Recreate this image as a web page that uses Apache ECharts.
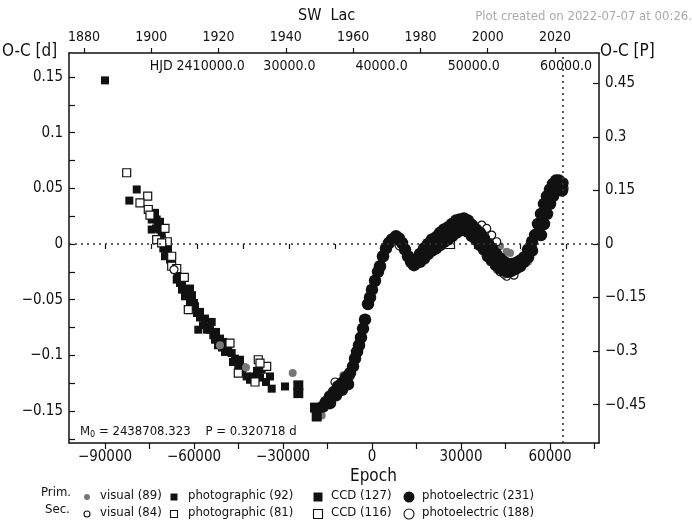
<!DOCTYPE html>
<html>
<head>
<meta charset="utf-8">
<title>SW Lac O-C diagram</title>
<script src="https://cdn.jsdelivr.net/npm/echarts@6/dist/echarts.min.js"></script>
<style>
  html, body { margin: 0; padding: 0; background: #fff; }
  #chart { width: 692px; height: 526px; }
</style>
</head>
<body>
<div id="chart"></div>
<script>
// Light-elements ephemeris used for the O-C values
const M0 = 2438708.323;
const PERIOD = 0.320718;

// Axis ticks and labels
const epochTicks = [-90000, -75000, -60000, -45000, -30000, -15000, 0, 15000, 30000, 45000, 60000, 75000];
const epochLabels = [-90000, -60000, -30000, 0, 30000, 60000];
const ocDayTicks = [-0.175, -0.15, -0.125, -0.1, -0.075, -0.05, -0.025, 0, 0.025, 0.05, 0.075, 0.1, 0.125, 0.15];
const ocDayLabels = [-0.15, -0.1, -0.05, 0, 0.05, 0.1, 0.15];
const ocPhaseLabels = [-0.45, -0.3, -0.15, 0, 0.15, 0.3, 0.45];
const yearLabels = [1880, 1900, 1920, 1940, 1960, 1980, 2000, 2020];
const hjdTicks = [10000, 15000, 20000, 25000, 30000, 35000, 40000, 45000, 50000, 55000, 60000];
const hjdLabelValues = [20000, 30000, 40000, 50000, 60000];
const hjdLabelTexts = ['HJD 2410000.0', '30000.0', '40000.0', '50000.0', '60000.0'];
const todayEpoch = 64400;

// Observed minima: [epoch, O-C in days]
const visualPrim = [
  [-51240, -0.091], [-42470, -0.111], [-26730, -0.116], [-16960, -0.154], [-9670, -0.118],
  [38430, -0.010], [39780, -0.016], [42140, -0.019], [43150, -0.002], [45410, -0.007],
  [46520, -0.008], [52590, -0.016], [42040, -0.023], [44160, -0.026], [45410, -0.028], [48540, -0.023]
];
const visualSec = [
  [-66750, -0.023], [-12470, -0.124], [-7420, -0.119], [11120, -0.004], [36980, 0.017],
  [38670, 0.014], [40350, 0.008], [42040, 0.002], [43150, -0.025], [45410, -0.029],
  [44500, -0.027], [47860, -0.028]
];
const photoPrim = [
  [-90000, 0.147], [-81800, 0.039], [-79300, 0.049], [-74260, 0.022], [-72580, 0.022],
  [-74260, 0.013], [-71460, 0.013], [-70890, 0.008], [-70350, -0.004], [-69200, -0.008],
  [-69780, -0.011], [-68090, -0.014], [-65630, -0.029], [-64720, -0.035], [-61350, -0.040],
  [-62460, -0.044], [-61350, -0.049], [-65830, -0.032], [-63040, -0.047], [-61350, -0.052],
  [-59670, -0.056], [-57980, -0.061], [-56300, -0.067], [-58550, -0.077], [-54040, -0.070],
  [-54610, -0.077], [-53500, -0.082], [-51240, -0.085], [-50130, -0.088], [-48440, -0.094],
  [-47300, -0.098], [-46180, -0.103], [-45070, -0.109], [-42240, -0.119], [-40010, -0.119],
  [-37180, -0.113], [-34380, -0.119], [-33810, -0.130], [-29330, -0.128],
  [-64050, -0.041], [-60680, -0.046], [-58990, -0.062], [-56970, -0.073], [-55620, -0.074],
  [-52590, -0.079], [-51910, -0.091], [-49550, -0.097], [-44500, -0.104], [-43490, -0.111],
  [-37750, -0.120], [-38770, -0.114], [-35730, -0.124],
  [-73150, 0.028], [-71460, 0.020], [-72810, 0.014], [-68770, 0.000], [-67420, -0.016], [-66750, -0.022],
  [-72140, 0.017], [-70790, 0.004], [-68770, -0.005], [-66410, -0.023], [-64050, -0.037],
  [-62030, -0.046], [-60000, -0.053], [-57980, -0.066], [-55620, -0.077], [-52920, -0.086],
  [-50570, -0.093], [-46860, -0.106], [-43820, -0.115], [-41130, -0.122]
];
const photoSec = [
  [-82690, 0.064], [-75610, 0.043], [-78210, 0.037], [-75410, 0.031], [-74840, 0.026],
  [-69780, 0.014], [-72580, 0.004], [-69000, 0.002], [-70890, 0.001], [-67520, -0.011],
  [-67520, -0.020], [-65830, -0.022], [-63270, -0.030], [-61920, -0.059], [-47870, -0.089],
  [-38330, -0.104], [-45070, -0.116], [-39440, -0.124], [-35500, -0.110], [-37750, -0.107]
];
const ccdPrim = [
  [-24840, -0.127], [-24840, -0.134], [-19210, -0.147], [-18640, -0.155]
];
const ccdSec = [
  [26290, 0.000], [64380, 0.052]
];
const peSec = [
  [9440, -0.001], [64380, 0.055], [64380, 0.050]
];
const pePrim = [
  [-16520, -0.146], [-15510, -0.142], [-14160, -0.137], [-12810, -0.133], [-11460, -0.128],
  [-10110, -0.125], [-8760, -0.120], [-7420, -0.116], [-6400, -0.110], [-5730, -0.103],
  [-5060, -0.097], [-4380, -0.091], [-3710, -0.084], [-3030, -0.076], [-2360, -0.068],
  [-1350, -0.054], [-670, -0.048], [0, -0.041], [1010, -0.033], [2020, -0.025],
  [2700, -0.020], [3710, -0.011], [4720, -0.004], [5730, 0.001], [6740, 0.004],
  [8090, 0.007], [9100, 0.005], [10110, 0.001], [11120, -0.005], [12140, -0.011],
  [13150, -0.016], [14160, -0.019], [15170, -0.014], [16180, -0.009], [17530, -0.004],
  [18880, 0.000], [20230, 0.004], [21570, 0.006], [22920, 0.010], [24270, 0.013],
  [25620, 0.015], [26970, 0.018], [28320, 0.021], [29660, 0.022], [31010, 0.023],
  [32360, 0.021], [33710, 0.017], [35060, 0.013], [36410, 0.010], [37760, 0.005],
  [39100, 0.000], [40450, -0.004], [41800, -0.009], [43150, -0.013], [44500, -0.016],
  [45850, -0.018], [47190, -0.018], [48540, -0.017], [49890, -0.015], [51240, -0.012],
  [52590, -0.005], [53940, 0.002], [54950, 0.008], [55960, 0.018], [56970, 0.027],
  [57980, 0.036], [58990, 0.043], [60000, 0.049], [61010, 0.054], [62020, 0.057],
  [63030, 0.057], [64050, 0.054],
  [-14160, -0.143], [-12140, -0.136], [-10110, -0.131], [-8090, -0.126],
  [16180, -0.016], [17530, -0.013], [18880, -0.009], [20230, -0.006], [21570, -0.004],
  [22920, -0.001], [24270, 0.002], [25620, 0.004], [26970, 0.007], [28320, 0.010],
  [29660, 0.012], [31010, 0.013], [32360, 0.011], [33710, 0.007], [35060, 0.004],
  [36410, -0.001], [37760, -0.005], [39100, -0.011], [40450, -0.015], [41800, -0.019],
  [43150, -0.022], [44500, -0.024], [45850, -0.025], [47190, -0.024], [48540, -0.022],
  [49890, -0.020], [51240, -0.016], [52590, -0.012], [53940, -0.006], [56970, 0.008],
  [57980, 0.018], [58990, 0.027], [60000, 0.036], [61010, 0.043], [62020, 0.048],
  [63370, 0.052], [64050, 0.048]
];

const FONT = '"DejaVu Sans Condensed", "DejaVu Sans", sans-serif';
const INK = '#111';
const GREY = '#777';

// Plot window in axis units
const epochMin = -102135, epochMax = 76517;
const dayMin = -0.1788, dayMax = 0.1716;
const yearMin = 1875.54, yearMax = 2033.08;
const hjdMin = 6095, hjdMax = 63579;

const minus = v => (v < 0 ? '\u2212' : '') + String(Math.abs(v));

function filled(name, data, symbol, size, color) {
  return {
    name, type: 'scatter', data, symbol, symbolSize: size,
    xAxisIndex: 0, yAxisIndex: 0, silent: true,
    itemStyle: { color, opacity: 1 }
  };
}
function open(name, data, symbol, size) {
  return {
    name, type: 'scatter', data, symbol, symbolSize: size,
    xAxisIndex: 0, yAxisIndex: 0, silent: true,
    itemStyle: { color: '#fff', borderColor: INK, borderWidth: 1.2, opacity: 1 }
  };
}

const refLines = {
  silent: true,
  symbol: ['none', 'none'],
  label: { show: false },
  lineStyle: { type: [2, 4], color: '#333', width: 1.6 },
  data: [{ yAxis: 0 }, { xAxis: todayEpoch }]
};

const series = [
  Object.assign(filled('photographic (92)', photoPrim, 'rect', 8, INK), { markLine: refLines }),
  open('photographic (81)', photoSec, 'rect', 8),
  filled('visual (89)', visualPrim, 'circle', 8, GREY),
  open('visual (84)', visualSec, 'circle', 8),
  filled('CCD (127)', ccdPrim, 'rect', 10, INK),
  open('CCD (116)', ccdSec, 'rect', 9),
  open('photoelectric (188)', peSec, 'circle', 10),
  filled('photoelectric (231)', pePrim, 'circle', 12.5, INK)
];

// Legend drawn as two rows of marker + text
function legendRow(y, prim) {
  const items = [];
  const t = (x, text) => items.push({
    type: 'text', left: x, top: y - 8,
    style: { text, font: '13px ' + FONT, fill: INK }
  });
  const circ = (x, r, fill) => items.push({
    type: 'circle', shape: { cx: x, cy: y, r },
    style: prim ? { fill } : { fill: '#fff', stroke: INK, lineWidth: 1.1 }
  });
  const sq = (x, s) => items.push({
    type: 'rect', shape: { x: x - s / 2, y: y - s / 2, width: s, height: s },
    style: prim ? { fill: INK } : { fill: '#fff', stroke: INK, lineWidth: 1.1 }
  });
  circ(87, 3, GREY);
  t(100, prim ? 'visual (89)' : 'visual (84)');
  sq(174, 7);
  t(188, prim ? 'photographic (92)' : 'photographic (81)');
  sq(318, 9);
  t(331, prim ? 'CCD (127)' : 'CCD (116)');
  circ(409, prim ? 5.5 : 5, INK);
  t(422, prim ? 'photoelectric (231)' : 'photoelectric (188)');
  return items;
}

const graphics = [
  { type: 'text', left: 298, top: 8, style: { text: 'SW  Lac', font: '16px ' + FONT, fill: INK } },
  { type: 'text', right: 0, top: 10, style: { text: 'Plot created on 2022-07-07 at 00:26.', font: '13px ' + FONT, fill: '#aaa' } },
  { type: 'text', left: 2, top: 43, style: { text: 'O-C [d]', font: '17px ' + FONT, fill: INK } },
  { type: 'text', left: 600, top: 43, style: { text: 'O-C [P]', font: '17px ' + FONT, fill: INK } },
  { type: 'text', left: 350, top: 468, style: { text: 'Epoch', font: '17px ' + FONT, fill: INK } },
  { type: 'text', left: 80, top: 425, style: {
      rich: {
        n: { font: '13px ' + FONT, fill: INK },
        s: { font: '9px ' + FONT, fill: INK, verticalAlign: 'bottom', padding: [6, 0, 0, 0] }
      },
      text: '{n|M}{s|0}{n| = 2438708.323    P = 0.320718 d}'
  } },
  { type: 'text', left: 41, top: 486, style: { text: 'Prim.', font: '13px ' + FONT, fill: INK } },
  { type: 'text', left: 45, top: 503, style: { text: 'Sec.', font: '13px ' + FONT, fill: INK } }
].concat(legendRow(497, true), legendRow(514, false));

const chart = echarts.init(document.getElementById('chart'), null, { renderer: 'canvas' });
chart.setOption({
  animation: false,
  backgroundColor: '#fff',
  textStyle: { fontFamily: FONT },
  grid: { left: 69, right: 93, top: 53, bottom: 83, containLabel: false },
  xAxis: [
    {
      type: 'value', position: 'bottom', min: epochMin, max: epochMax,
      axisLine: { show: true, onZero: false, lineStyle: { color: INK, width: 1.5 } },
      axisTick: { show: true, inside: false, length: 6, customValues: epochTicks, lineStyle: { color: INK, width: 1.2 } },
      axisLabel: { show: true, margin: 7, customValues: epochLabels, formatter: minus, color: INK, fontSize: 15, fontFamily: FONT },
      splitLine: { show: false }
    },
    {
      type: 'value', position: 'top', min: yearMin, max: yearMax,
      axisLine: { show: true, onZero: false, lineStyle: { color: INK, width: 1.5 } },
      axisTick: { show: true, inside: false, length: 5, customValues: yearLabels, lineStyle: { color: INK, width: 1.2 } },
      axisLabel: { show: true, margin: 9, customValues: yearLabels, formatter: v => String(v), color: INK, fontSize: 14, fontFamily: FONT },
      splitLine: { show: false }
    },
    {
      type: 'value', position: 'top', min: hjdMin, max: hjdMax,
      axisLine: { show: false },
      axisTick: { show: true, inside: true, length: 5, customValues: hjdTicks, lineStyle: { color: INK, width: 1.2 } },
      axisLabel: {
        show: true, inside: true, margin: 6, customValues: hjdLabelValues,
        formatter: v => hjdLabelTexts[hjdLabelValues.indexOf(v)] || '',
        color: INK, fontSize: 14, fontFamily: FONT
      },
      splitLine: { show: false }
    }
  ],
  yAxis: [
    {
      type: 'value', position: 'left', min: dayMin, max: dayMax,
      axisLine: { show: true, onZero: false, lineStyle: { color: INK, width: 1.5 } },
      axisTick: { show: true, inside: true, length: 6, customValues: ocDayTicks, lineStyle: { color: INK, width: 1.2 } },
      axisLabel: { show: true, margin: 6, customValues: ocDayLabels, formatter: minus, color: INK, fontSize: 15, fontFamily: FONT },
      splitLine: { show: false }
    },
    {
      type: 'value', position: 'right', min: dayMin / PERIOD, max: dayMax / PERIOD,
      axisLine: { show: true, onZero: false, lineStyle: { color: INK, width: 1.5 } },
      axisTick: { show: true, inside: true, length: 6, customValues: ocPhaseLabels, lineStyle: { color: INK, width: 1.2 } },
      axisLabel: { show: true, margin: 6, customValues: ocPhaseLabels, formatter: minus, color: INK, fontSize: 15, fontFamily: FONT },
      splitLine: { show: false }
    }
  ],
  series,
  graphic: graphics
});
</script>
</body>
</html>
